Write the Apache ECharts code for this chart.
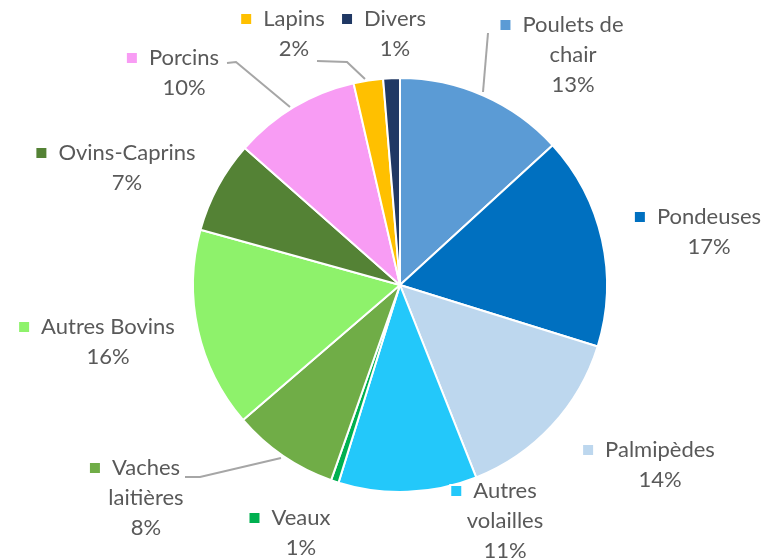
<!DOCTYPE html>
<html>
<head>
<meta charset="utf-8">
<script src="https://cdn.jsdelivr.net/npm/echarts@6/dist/echarts.min.js"></script>
<style>
  html, body { margin: 0; padding: 0; background: #fff; }
  #main { width: 767px; height: 558px; }
</style>
</head>
<body>
<div id="main"></div>
<script>
// categories, clockwise from 12 o'clock
var names = ['Poulets de chair', 'Pondeuses', 'Palmipèdes', 'Autres volailles', 'Veaux',
  'Vaches laitières', 'Autres Bovins', 'Ovins-Caprins', 'Porcins', 'Lapins', 'Divers'];
// part in %
var shares = [13.2, 16.6, 14.2, 10.8, 0.6, 8.3, 15.6, 7.2, 9.9, 2.3, 1.3];
// label text as shown (line breaks)
var labelNames = ['Poulets de\nchair', 'Pondeuses', 'Palmipèdes', 'Autres\nvolailles', 'Veaux',
  'Vaches\nlaitières', 'Autres Bovins', 'Ovins-Caprins', 'Porcins', 'Lapins', 'Divers'];
var colors = ['#5B9BD5', '#0070C0', '#BDD7EE', '#23C8FA', '#00B050',
  '#70AD47', '#8EF26B', '#548235', '#F89CF4', '#FFC000', '#203864'];

// where excel put the labels (centre of text block)
var labelPos = [[573, 55], [709, 232], [660, 465], [505, 521], [301, 533],
  [146, 498], [108, 342], [127, 168], [184, 73], [294, 34], [395, 34]];
// leader lines excel drew for the labels it moved (null = none)
var leaderLines = [
  [[488, 33], [483, 92]],
  null, null, null, null,
  [[185, 477], [200, 477], [281, 458]],
  null, null,
  [[227, 63], [236, 62], [290, 107]],
  [[317, 61], [347, 62], [365, 79]],
  null
];

var pieData = names.map(function (n, i) {
  return {
    name: n,
    value: shares[i],
    itemStyle: { color: colors[i] },
    labelLine: { show: leaderLines[i] != null }
  };
});

var myChart = echarts.init(document.getElementById('main'));

var txt = { color: '#595959', fontFamily: 'Lato', fontSize: 22, lineHeight: 30 };

var option = {
  backgroundColor: '#fff',
  animation: false,
  series: [{
    type: 'pie',
    center: [400, 285],
    radius: 207,
    startAngle: 90,
    clockwise: true,
    data: pieData,
    itemStyle: { borderColor: '#fff', borderWidth: 2 },
    label: {
      show: true,
      position: 'outside',
      color: txt.color,
      fontFamily: txt.fontFamily,
      fontSize: txt.fontSize,
      lineHeight: txt.lineHeight,
      align: 'center',
      formatter: function (p) {
        var i = p.dataIndex;
        var lines = labelNames[i].split('\n');
        // right padding on the name keeps it centred over the other lines
        var first = '{sq' + i + '|}{gap|}{nm|' + lines[0] + '}';
        var rest = lines.slice(1);
        rest.push(Math.round(p.percent) + '%');
        return first + '\n' + rest.join('\n');
      },
      rich: (function () {
        var r = {
          gap: { width: 12 },
          nm: {
            color: txt.color, fontFamily: txt.fontFamily, fontSize: txt.fontSize,
            lineHeight: txt.lineHeight, padding: [0, 22, 0, 0]
          }
        };
        colors.forEach(function (c, i) {
          r['sq' + i] = {
            width: 10, height: 10, backgroundColor: c,
            borderColor: i === 3 ? '#fff' : c, borderWidth: i === 3 ? 2 : 0
          };
        });
        return r;
      })()
    },
    labelLine: {
      show: true,
      length: 10,
      length2: 10,
      lineStyle: { color: '#A6A6A6', width: 2 }
    },
    labelLayout: function (params) {
      var i = params.dataIndex;
      var p = labelPos[i];
      var out = {
        x: p[0],
        y: p[1],
        align: 'center',
        verticalAlign: 'middle'
      };
      if (leaderLines[i]) out.labelLinePoints = leaderLines[i];
      return out;
    }
  }]
};

myChart.setOption(option);
</script>
</body>
</html>
